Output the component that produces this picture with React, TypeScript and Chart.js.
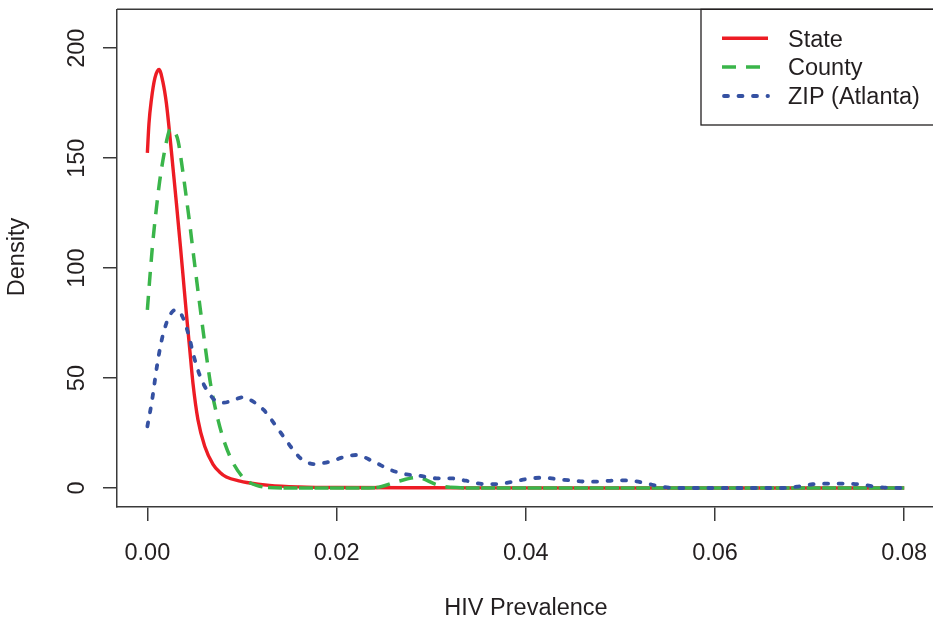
import { useEffect, useRef } from "react";
import { Chart, registerables } from "chart.js";

Chart.register(...registerables);

// ---- data ----
const stateX = [0, 0.00017, 0.00042, 0.0008, 0.00123, 0.00165, 0.00201, 0.00236, 0.00271, 0.00307, 0.00349, 0.00376, 0.00412, 0.00447, 0.00482, 0.00535, 0.00606, 0.00694, 0.00765, 0.00835, 0.0098, 0.0105, 0.0129, 0.016, 0.02, 0.03, 0.05, 0.08];
const stateY = [152.4, 165.8, 176.4, 186.5, 190.3, 184.5, 175, 161, 145.5, 129.5, 110, 97, 79.5, 63.5, 47.6, 31, 19, 10.8, 7.2, 5.0, 3.1, 2.5, 1.2, 0.5, 0.2, 0.1, 0, 0];

const countyX = [0, 0.00024, 0.00042, 0.00059, 0.00095, 0.0013, 0.00183, 0.00215, 0.00243, 0.0028, 0.00324, 0.00376, 0.00412, 0.00447, 0.00482, 0.00518, 0.00553, 0.00606, 0.00641, 0.00677, 0.00747, 0.00817, 0.00905, 0.01011, 0.0108, 0.01153, 0.01275, 0.016, 0.022, 0.0242, 0.0264, 0.0285, 0.0306, 0.032, 0.035, 0.05, 0.08];
const countyY = [81, 94.5, 104, 112.5, 127, 139.5, 153.5, 160, 163.5, 162.5, 158, 143.5, 132, 120.5, 108, 95.5, 83.5, 66, 55, 45, 31, 20.5, 11.5, 4.8, 2.5, 1.2, 0.2, 0, 0, 0.2, 2.9, 4.8, 1.5, 0.3, 0, 0, 0];

const zipX = [0, 0.0005, 0.001, 0.0015, 0.0021, 0.0026, 0.003, 0.0037, 0.0044, 0.0049, 0.0056, 0.0063, 0.0074, 0.0081, 0.0091, 0.0101, 0.0109, 0.0123, 0.013, 0.0144, 0.0153, 0.0162, 0.0176, 0.0193, 0.0207, 0.0221, 0.0239, 0.0257, 0.0274, 0.0288, 0.0306, 0.032, 0.0337, 0.0355, 0.0369, 0.0387, 0.0401, 0.0418, 0.0432, 0.0446, 0.0464, 0.048, 0.0496, 0.0512, 0.0527, 0.0543, 0.0559, 0.06, 0.0672, 0.0687, 0.0703, 0.0719, 0.0735, 0.0751, 0.0767, 0.0782, 0.08];
const zipY = [28, 40, 55, 67, 76, 80, 81, 78, 69, 60, 50.6, 44.5, 39.2, 38.8, 40, 41.3, 40, 35.5, 31.7, 23.3, 18, 13.5, 10.9, 12, 14, 15, 12, 8.2, 6.2, 5.5, 4.4, 4.4, 3.3, 1.8, 1.8, 2.9, 4.1, 4.7, 4.1, 3.5, 2.9, 3.0, 3.5, 3.3, 2.1, 0.6, 0, 0, 0, 0.6, 1.7, 2.0, 2.0, 1.7, 0.8, 0.1, 0];

const seriesLabels = ["State", "County", "ZIP (Atlanta)"];
const xTicks = [0, 0.02, 0.04, 0.06, 0.08];
const xTickLabels = ["0.00", "0.02", "0.04", "0.06", "0.08"];
const yTicks = [0, 50, 100, 150, 200];
const yTickLabels = ["0", "50", "100", "150", "200"];
const xTitle = "HIV Prevalence";
const yTitle = "Density";

// ---- styles ----
const RED = "#ED1C24";
const GREEN = "#3AB54A";
const BLUE = "#3551A2";
const INK = "#231F20";
const AXIS = "#3a3a3a";
const FONT = "23.5px 'Liberation Sans', Arial, Helvetica, sans-serif";
const GREEN_DASH = [14, 10];
const GREEN_FLAT_DASH = [14, 1.5];
const BLUE_DASH = [4, 10.5];

const toPts = (xs: number[], ys: number[]) => xs.map((x, i) => ({ x, y: ys[i] }));

const overlay = {
  id: "overlay",
  afterDraw(chart: any) {
    const ctx: CanvasRenderingContext2D = chart.ctx;
    const a = chart.chartArea;
    const xs = chart.scales.x;
    const ys = chart.scales.y;
    ctx.save();
    // top border of box
    ctx.strokeStyle = AXIS;
    ctx.lineWidth = 1.5;
    ctx.beginPath();
    ctx.moveTo(a.left, a.top);
    ctx.lineTo(a.right + 5, a.top);
    ctx.stroke();

    ctx.fillStyle = INK;
    ctx.font = FONT;
    ctx.textBaseline = "alphabetic";
    ctx.textAlign = "center";
    xTicks.forEach((v, i) => {
      ctx.fillText(xTickLabels[i], xs.getPixelForValue(v), a.bottom + 53);
    });
    yTicks.forEach((v, i) => {
      ctx.save();
      ctx.translate(a.left - 33.5, ys.getPixelForValue(v));
      ctx.rotate(-Math.PI / 2);
      ctx.fillText(yTickLabels[i], 0, 0);
      ctx.restore();
    });
    // axis titles
    ctx.fillText(xTitle, (a.left + a.right + 2) / 2, 615);
    ctx.save();
    ctx.translate(24, 257);
    ctx.rotate(-Math.PI / 2);
    ctx.fillText(yTitle, 0, 0);
    ctx.restore();

    // legend
    const lx = 701;
    const ly = a.top;
    const lb = 125;
    ctx.strokeStyle = INK;
    ctx.lineWidth = 1.3;
    ctx.strokeRect(lx, ly, 260, lb - ly);
    const rows = [38.3, 67, 96];
    const styles = [
      { c: RED, d: [] as number[], w: 3.4, cap: "butt" },
      { c: GREEN, d: GREEN_DASH, w: 3.5, cap: "butt" },
      { c: BLUE, d: BLUE_DASH, w: 3.8, cap: "round" },
    ];
    rows.forEach((ry, i) => {
      const s = styles[i];
      ctx.save();
      ctx.strokeStyle = s.c;
      ctx.lineWidth = s.w;
      ctx.lineCap = s.cap as CanvasLineCap;
      ctx.setLineDash(s.d);
      ctx.beginPath();
      ctx.moveTo(i === 2 ? 724 : 722, ry);
      ctx.lineTo(768, ry);
      ctx.stroke();
      ctx.restore();
      ctx.fillStyle = INK;
      ctx.textAlign = "left";
      ctx.fillText(seriesLabels[i], 788, ry + 8.4);
    });
    ctx.restore();
  },
};

export default function App() {
  const ref = useRef<HTMLCanvasElement | null>(null);
  useEffect(() => {
    document.body.style.margin = "0";
    const canvas = ref.current;
    if (!canvas) return;
    const chart = new Chart(canvas, {
      type: "line",
      data: {
        datasets: [
          {
            label: seriesLabels[0],
            data: toPts(stateX, stateY),
            borderColor: RED,
            borderWidth: 3.4,
            pointRadius: 0,
            fill: false,
            cubicInterpolationMode: "monotone",
            order: 3,
          },
          {
            label: seriesLabels[1],
            data: toPts(countyX, countyY),
            borderColor: GREEN,
            borderWidth: 3.5,
            borderDash: GREEN_DASH,
            pointRadius: 0,
            fill: false,
            cubicInterpolationMode: "monotone",
            order: 2,
            segment: {
              borderDash: (c: any) =>
                c.p0.parsed.y < 0.5 && c.p1.parsed.y < 0.5 ? GREEN_FLAT_DASH : undefined,
            },
          },
          {
            label: seriesLabels[2],
            data: toPts(zipX, zipY),
            borderColor: BLUE,
            borderWidth: 3.8,
            borderDash: BLUE_DASH,
            borderCapStyle: "round",
            pointRadius: 0,
            fill: false,
            cubicInterpolationMode: "monotone",
            order: 1,
          },
        ] as any,
      },
      options: {
        responsive: false,
        animation: false,
        devicePixelRatio: 1,
        layout: { padding: { top: 9.3, left: 0, right: 0, bottom: 0 } },
        plugins: { legend: { display: false }, tooltip: { enabled: false } },
        scales: {
          x: {
            type: "linear",
            min: -0.00321,
            max: 0.08304,
            afterBuildTicks: (s: any) => {
              s.ticks = xTicks.map((v) => ({ value: v }));
            },
            afterFit: (s: any) => {
              s.height = 115;
            },
            ticks: { display: false, autoSkip: false },
            grid: {
              display: true,
              drawOnChartArea: false,
              drawTicks: true,
              tickLength: 14,
              color: AXIS,
              lineWidth: 1.5,
            },
            border: { display: true, color: AXIS, width: 1.5 },
          },
          y: {
            type: "linear",
            min: -8.64,
            max: 217.7,
            afterBuildTicks: (s: any) => {
              s.ticks = yTicks.map((v) => ({ value: v }));
            },
            afterFit: (s: any) => {
              s.width = 117;
            },
            ticks: { display: false, autoSkip: false },
            grid: {
              display: true,
              drawOnChartArea: false,
              drawTicks: true,
              tickLength: 14,
              color: AXIS,
              lineWidth: 1.5,
            },
            border: { display: true, color: AXIS, width: 1.5 },
          },
        },
      } as any,
      plugins: [overlay],
    });
    return () => chart.destroy();
  }, []);
  return (
    <div style={{ width: 933, height: 622, background: "#fff" }}>
      <canvas ref={ref} width={933} height={622} style={{ display: "block" }} />
    </div>
  );
}
